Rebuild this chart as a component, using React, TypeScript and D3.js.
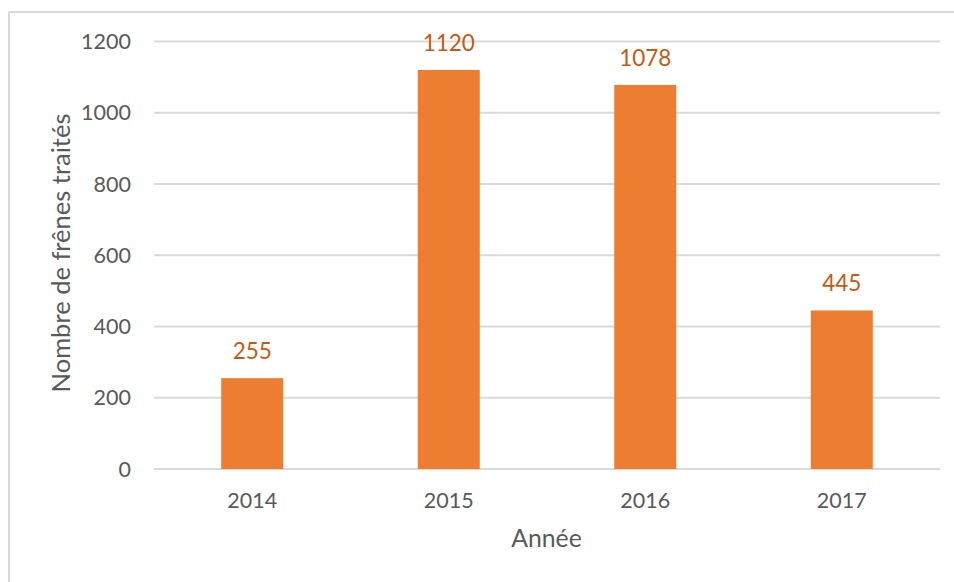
import React from "react";
import * as d3 from "d3";

const years = ["2014", "2015", "2016", "2017"];
const values = [255, 1120, 1078, 445];
const yTicks = [0, 200, 400, 600, 800, 1000, 1200];
const yTitle = "Nombre de frênes traités";
const xTitle = "Année";

export default function App() {
  const W = 954, H = 582;
  const left = 154, right = 940, top = 41.5, bottom = 469;
  const x = d3.scaleBand<string>().domain(years).range([left, right]).paddingInner(0.6845).paddingOuter(0.342);
  const y = d3.scaleLinear().domain([0, 1200]).range([bottom, top]);
  const font = "Lato, 'Open Sans', sans-serif";
  return (
    <svg width={W} height={H} style={{ position: "absolute", left: 0, top: 0, background: "#fff" }}>
      <rect x={9} y={12} width={W + 20} height={H + 20} fill="#fff" stroke="#D9D9D9" strokeWidth={2} />
      {yTicks.map((t) => (
        <g key={t}>
          <line x1={left} x2={right} y1={y(t)} y2={y(t)} stroke="#D9D9D9" strokeWidth={2} />
          <text x={131} y={y(t)} dy="0.35em" textAnchor="end" fontFamily={font} fontSize={21.5} fill="#595959">{t}</text>
        </g>
      ))}
      {years.map((yr, i) => (
        <g key={yr}>
          <rect x={x(yr)} y={y(values[i])} width={x.bandwidth()} height={bottom - y(values[i])} fill="#ED7D31" />
          <text x={x(yr)! + x.bandwidth() / 2} y={y(values[i]) - 19} textAnchor="middle" fontFamily={font} fontSize={22.5} fill="#C55A11">{values[i]}</text>
          <text x={x(yr)! + x.bandwidth() / 2} y={508} textAnchor="middle" fontFamily={font} fontSize={21.5} fill="#595959">{yr}</text>
        </g>
      ))}
      <text x={546.5} y={547} textAnchor="middle" fontFamily={font} fontSize={24.8} fill="#595959">{xTitle}</text>
      <text transform={`translate(70,253) rotate(-90)`} textAnchor="middle" fontFamily={font} fontSize={25.5} fill="#595959">{yTitle}</text>
    </svg>
  );
}
